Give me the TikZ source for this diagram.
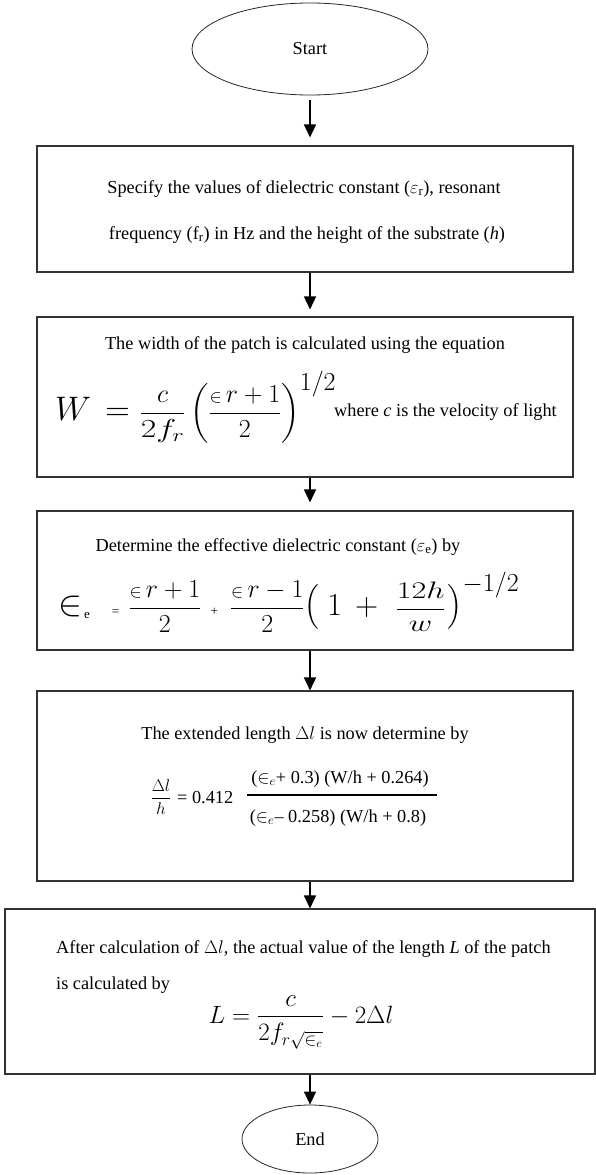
\RequirePackage{fix-cm}
\documentclass[tikz,border=0pt]{standalone}
\usepackage{amsmath}
\usepackage{graphicx}
\usepackage{fontspec}
\setmainfont{Liberation Serif}
\usetikzlibrary{arrows.meta,shapes.geometric}
\newcommand{\msz}[1]{\fontsize{#1}{#1}\selectfont}
\begin{document}
\begin{tikzpicture}[x=1pt,y=-1pt,
  box/.style={draw=black!80, line width=1.1pt, rectangle, minimum width=536pt, inner sep=0pt},
  term/.style={draw=black!85, line width=0.8pt, ellipse, inner sep=0pt, font=\fontsize{18.3}{22}\selectfont},
  arr/.style={line width=1.5pt, -{Triangle[width=12pt,length=13pt]}},
  txt/.style={font=\fontsize{18.3}{22}\selectfont, inner sep=0pt},
]
\useasboundingbox (0,0) rectangle (596,1175);

% terminals
\node[term, minimum width=236pt, minimum height=92pt] (start) at (310,49) {Start};
\node[term, minimum width=136pt, minimum height=68pt] (end) at (310,1139) {End};

% boxes
\node[box, minimum height=126pt] (b1) at (305,209) {};
\node[box, minimum height=160pt] (b2) at (305,397) {};
\node[box, minimum height=139pt] (b3) at (305,580.5) {};
\node[box, minimum height=190pt] (b4) at (305,786) {};
\node[box, minimum width=590pt, minimum height=165pt] (b5) at (300,991.5) {};

% box 1
\node[txt, anchor=base] (b1a) at (304,193) {Specify the values of dielectric constant ($\varepsilon_{\mathrm{r}}$), resonant};
\node[txt, anchor=base] (b1b) at (307,239) {frequency (f\textsubscript{r}) in Hz and the height of the substrate (\textit{h})};

% box 2
\node[txt, anchor=base] (b2a) at (305,349) {The width of the patch is calculated using the equation};
\node[inner sep=0pt, anchor=base west] (b2f) at (55,420)
  {{\msz{34}$W$\hspace{14pt}$=$}\hspace{10pt}{\msz{26}\delimiterfactor=800 $\dfrac{c}{\scalebox{1.3}[1]{$2f_r$}}\left(\dfrac{{\scriptstyle\in}\,r+1}{2}\right)^{\mbox{\msz{26}$1/2$}}$}};
\node[txt, anchor=base west] (b2b) at (334,416) {where \textit{c} is the velocity of light};

% box 3
\node[txt, anchor=base] (b3a) at (278,551) {Determine the effective dielectric constant ($\varepsilon_{\mathrm{e}}$) by};
\node[inner sep=0pt, anchor=base west] (b3f) at (58,615)
  {{\msz{36}$\in$}\hspace{2pt}{\msz{13}\raisebox{-3pt}{e}\hspace{22pt}=\hspace{9pt}}{\msz{26}$\dfrac{{\scriptstyle\in}\,r+1}{2}$}\hspace{9pt}{\msz{13}+}\hspace{12pt}{\msz{26}$\dfrac{{\scriptstyle\in}\,r-1}{2}$}{\msz{32}$\left(\hspace{8pt}1\hspace{6pt}+\hspace{10pt}\mbox{\msz{28}\scalebox{1.15}[0.85]{$\dfrac{12h}{w}$}}\hspace{2pt}\right)^{\mbox{\msz{26}$-1/2$}}$}};

% box 4
\node[txt, anchor=base] (b4a) at (305,739) {The extended length $\Delta l$ is now determine by};
\node[inner sep=0pt, font=\fontsize{17}{20}\selectfont] (b4f) at (161,797) {$\dfrac{\Delta l}{h}$};
\node[txt, anchor=base west] (b4eq) at (177,803) {= 0.412};
\node[txt, anchor=base] (b4n) at (340,783) {($\in_{e}$+ 0.3) (W/h + 0.264)};
\node[txt, anchor=base] (b4d) at (338,822) {($\in_{e}$– 0.258) (W/h + 0.8)};
\draw[line width=1.4pt] (247,795) -- (437,795);

% box 5
\node[txt, anchor=base west] (b5a) at (56,953) {After calculation of $\Delta l$, the actual value of the length \textit{L} of the patch};
\node[txt, anchor=base west] (b5b) at (56,989) {is calculated by};
\node[inner sep=0pt, anchor=base] (b5f) at (301,1023)
  {\msz{25}$L=\dfrac{c}{2f_{r\sqrt{\in_e}}}-2\Delta l$};

% arrows
\draw[arr, shorten <=5pt, shorten >=8pt] (start.south) -- (b1.north -| start);
\draw[arr, shorten >=7pt] (b1.south -| start) -- (b2.north -| start);
\draw[arr, shorten >=8pt] (b2.south -| start) -- (b3.north -| start);
\draw[arr] (b3.south -| start) -- (b4.north -| start);
\draw[arr] (b4.south -| start) -- (b5.north -| start);
\draw[arr] (b5.south -| start) -- (end.north);
\end{tikzpicture}
\end{document}
